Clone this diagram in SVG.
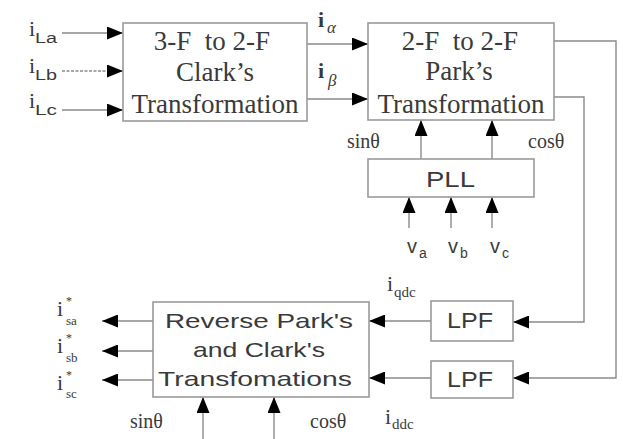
<svg xmlns="http://www.w3.org/2000/svg" width="623" height="439" viewBox="0 0 623 439">
<style>
.box{fill:#fff;stroke:#9a9a9a;stroke-width:1.6}
.ln{fill:none;stroke:#8a8a8a;stroke-width:1.4}
.ser{font-family:"Liberation Serif","Times New Roman",serif;fill:#3a3a3a}
.san{font-family:"Liberation Sans",Arial,sans-serif;fill:#3a3a3a}
.bt{font-size:27px;text-anchor:middle;white-space:pre}
.lab{font-size:22px}
.sub{font-size:14px}
.ast{font-size:12px}
.ss{font-size:13px}
</style>
<defs>
<marker id="ah" viewBox="0 0 16 13" markerWidth="16" markerHeight="13" refX="16" refY="6.5" orient="auto" markerUnits="userSpaceOnUse">
<path d="M0,0 L16,6.5 L0,13 z" fill="#000"/>
</marker>
</defs>
<g id="connectors">
<line class="ln" x1="62" y1="33" x2="123" y2="33" marker-end="url(#ah)"/>
<line class="ln" x1="62" y1="71" x2="123" y2="71" stroke-dasharray="3 1.5" marker-end="url(#ah)"/>
<line class="ln" x1="62" y1="110" x2="123" y2="110" marker-end="url(#ah)"/>
<line class="ln" x1="307" y1="44" x2="368" y2="44" marker-end="url(#ah)"/>
<line class="ln" x1="307" y1="99" x2="368" y2="99" marker-end="url(#ah)"/>
<line class="ln" x1="421" y1="159" x2="421" y2="120" marker-end="url(#ah)"/>
<line class="ln" x1="492" y1="159" x2="492" y2="120" marker-end="url(#ah)"/>
<line class="ln" x1="409" y1="228" x2="409" y2="197" marker-end="url(#ah)"/>
<line class="ln" x1="451" y1="228" x2="451" y2="197" marker-end="url(#ah)"/>
<line class="ln" x1="492" y1="228" x2="492" y2="197" marker-end="url(#ah)"/>
<polyline class="ln" points="554,41 616,41 616,378 513,378" marker-end="url(#ah)"/>
<polyline class="ln" points="554,97 584,97 584,322 513,322" marker-end="url(#ah)"/>
<line class="ln" x1="431" y1="321" x2="369" y2="321" marker-end="url(#ah)"/>
<line class="ln" x1="431" y1="378" x2="369" y2="378" marker-end="url(#ah)"/>
<line class="ln" x1="153" y1="321" x2="102" y2="321" marker-end="url(#ah)"/>
<line class="ln" x1="153" y1="351" x2="102" y2="351" marker-end="url(#ah)"/>
<line class="ln" x1="153" y1="380" x2="102" y2="380" marker-end="url(#ah)"/>
<line class="ln" x1="203" y1="439" x2="203" y2="397" marker-end="url(#ah)"/>
<line class="ln" x1="274" y1="439" x2="274" y2="397" marker-end="url(#ah)"/>
</g>
<g id="clark">
<rect class="box" x="123" y="23" width="184" height="98"/>
<text class="ser bt" x="212" y="50">3-F  to 2-F</text>
<text class="ser bt" x="215" y="81">Clark’s</text>
<text class="ser bt" x="215" y="113">Transformation</text>
</g>
<g id="park">
<rect class="box" x="368" y="23" width="186" height="97"/>
<text class="ser bt" x="460" y="50">2-F  to 2-F</text>
<text class="ser bt" x="459" y="80">Park’s</text>
<text class="ser bt" x="461" y="113">Transformation</text>
</g>
<g id="pll">
<rect class="box" x="368" y="159" width="166" height="38"/>
<text class="san" x="426" y="187" font-size="22" textLength="49" lengthAdjust="spacingAndGlyphs">PLL</text>
</g>
<g id="lpf1">
<rect class="box" x="431" y="301" width="82" height="40"/>
<text class="san" x="447" y="328" font-size="22" textLength="46" lengthAdjust="spacingAndGlyphs">LPF</text>
</g>
<g id="lpf2">
<rect class="box" x="431" y="361" width="82" height="37"/>
<text class="san" x="447" y="387" font-size="22" textLength="46" lengthAdjust="spacingAndGlyphs">LPF</text>
</g>
<g id="reverse">
<rect class="box" x="153" y="302" width="216" height="95"/>
<text class="san" x="165" y="328" font-size="21" textLength="188" lengthAdjust="spacingAndGlyphs">Reverse Park's</text>
<text class="san" x="193" y="357" font-size="21" textLength="132" lengthAdjust="spacingAndGlyphs">and Clark's</text>
<text class="san" x="158" y="386" font-size="21" textLength="194" lengthAdjust="spacingAndGlyphs">Transfomations</text>
</g>
<g id="labels">
<text class="ser lab" x="29" y="36">i</text><text class="san sub" x="35" y="43" textLength="22" lengthAdjust="spacingAndGlyphs">La</text>
<text class="ser lab" x="29" y="73">i</text><text class="san sub" x="35" y="80" textLength="22" lengthAdjust="spacingAndGlyphs">Lb</text>
<text class="ser lab" x="29" y="108">i</text><text class="san sub" x="35" y="115" textLength="22" lengthAdjust="spacingAndGlyphs">Lc</text>
<text class="ser lab" x="318" y="27" font-weight="bold">i</text><text class="ser" x="327" y="33" font-size="17" font-style="italic">α</text>
<text class="ser lab" x="318" y="78" font-weight="bold">i</text><text class="ser" x="328" y="86" font-size="17" font-style="italic">β</text>
<text class="ser" x="347" y="148" font-size="20">sinθ</text>
<text class="ser" x="528" y="148" font-size="20">cosθ</text>
<text class="san" x="407" y="253" font-size="20">v</text><text class="san sub" x="419" y="258">a</text>
<text class="san" x="448" y="253" font-size="20">v</text><text class="san sub" x="460" y="258">b</text>
<text class="san" x="490" y="253" font-size="20">v</text><text class="san sub" x="502" y="258">c</text>
<text class="ser lab" x="387" y="291">i</text><text class="ser" x="394" y="297" font-size="15">qdc</text>
<text class="ser lab" x="385" y="424">i</text><text class="ser" x="392" y="429" font-size="15">ddc</text>
<text class="ser lab" x="57" y="316">i</text><text class="ser ast" x="66" y="305">*</text><text class="ser ss" x="66" y="325">sa</text>
<text class="ser lab" x="57" y="353">i</text><text class="ser ast" x="66" y="342">*</text><text class="ser ss" x="66" y="362">sb</text>
<text class="ser lab" x="57" y="390">i</text><text class="ser ast" x="66" y="379">*</text><text class="ser ss" x="66" y="398">sc</text>
<text class="ser" x="130" y="428" font-size="20">sinθ</text>
<text class="ser" x="310" y="428" font-size="20">cosθ</text>
</g>
</svg>
